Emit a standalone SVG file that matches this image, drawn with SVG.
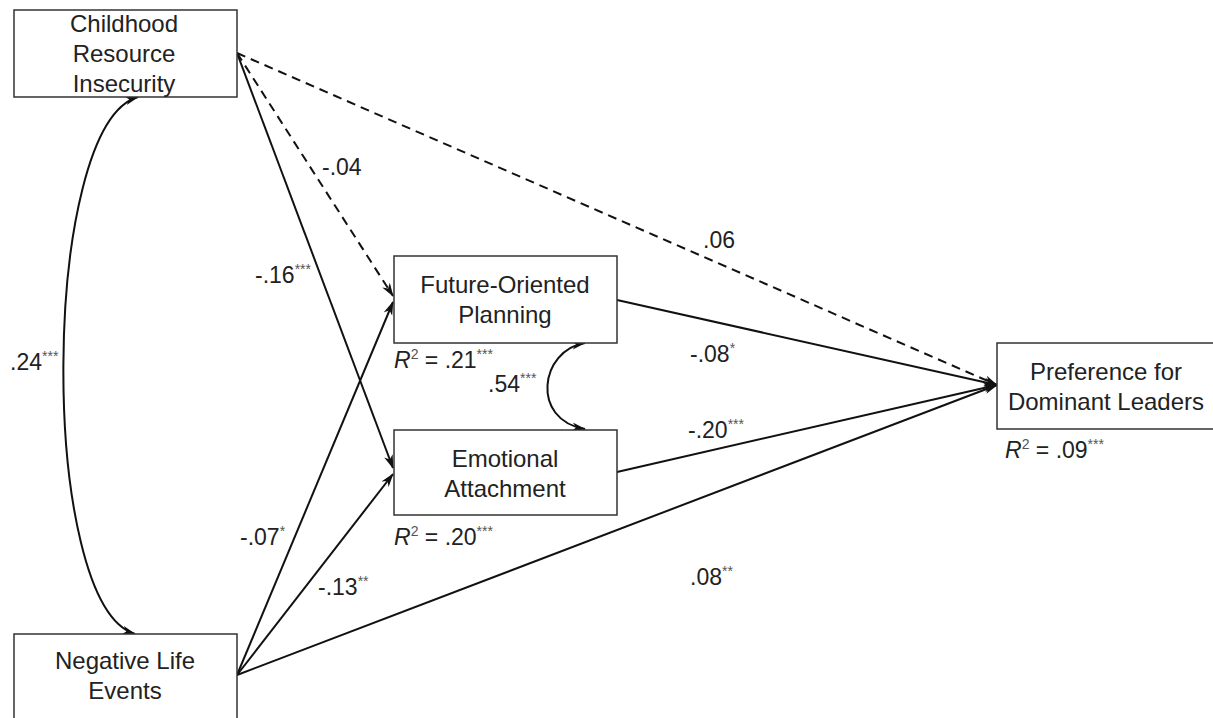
<svg xmlns="http://www.w3.org/2000/svg" width="1213" height="718" viewBox="0 0 1213 718">
<style>
.box{fill:#fff;stroke:#333;stroke-width:1.5}
.t{font-family:"Liberation Sans",Arial,sans-serif;font-size:24px;fill:#222;text-anchor:middle}
.l{font-family:"Liberation Sans",Arial,sans-serif;font-size:23px;fill:#222}
.s{font-size:14px;fill:#555}
.e{fill:none;stroke:#111;stroke-width:2;marker-end:url(#ah)}
.d{stroke-dasharray:9 6}
.c{fill:none;stroke:#111;stroke-width:2;marker-start:url(#ahs);marker-end:url(#ah)}
</style>
<defs>
<marker id="ah" viewBox="0 0 14 10" refX="13" refY="5" markerWidth="14" markerHeight="10" markerUnits="userSpaceOnUse" orient="auto">
<path d="M0,0.5 L14,5 L0,9.5 L4,5 z" fill="#111"/>
</marker>
<marker id="ahs" viewBox="0 0 14 10" refX="13" refY="5" markerWidth="14" markerHeight="10" markerUnits="userSpaceOnUse" orient="auto-start-reverse">
<path d="M0,0.5 L14,5 L0,9.5 L4,5 z" fill="#111"/>
</marker>
</defs>
<rect width="1213" height="718" fill="#fff"/>
<g id="connectors">
<path class="e d" d="M237,53 L997,385"/>
<path class="e d" d="M237,53 L393,296"/>
<path class="e" d="M237,53 L393,468"/>
<path class="e" d="M237,675 L393,302"/>
<path class="e" d="M237,675 L393,474"/>
<path class="e" d="M237,675 L997,385"/>
<path class="e" d="M617,300 L997,385"/>
<path class="e" d="M617,472 L997,385"/>
<path class="c" d="M138,97 C40,125 38,605 135,634"/>
<path class="c" d="M585,343 C540,350 530,420 585,429"/>
</g>
<g id="cri">
<rect class="box" x="14" y="10" width="223" height="87"/>
<text class="t" x="124" y="32">Childhood</text>
<text class="t" x="124" y="62">Resource</text>
<text class="t" x="124" y="92">Insecurity</text>
</g>
<g id="nle">
<rect class="box" x="14" y="634" width="223" height="90"/>
<text class="t" x="125" y="669">Negative Life</text>
<text class="t" x="125" y="699">Events</text>
</g>
<g id="fop">
<rect class="box" x="394" y="256" width="223" height="87"/>
<text class="t" x="505" y="293">Future-Oriented</text>
<text class="t" x="505" y="323">Planning</text>
</g>
<g id="ea">
<rect class="box" x="394" y="430" width="223" height="85"/>
<text class="t" x="505" y="467">Emotional</text>
<text class="t" x="505" y="497">Attachment</text>
</g>
<g id="pdl">
<rect class="box" x="997" y="343" width="223" height="86"/>
<text class="t" x="1106" y="380">Preference for</text>
<text class="t" x="1106" y="410">Dominant Leaders</text>
</g>
<g id="labels">
<text class="l" x="394" y="368"><tspan font-style="italic">R</tspan><tspan class="s" dy="-9">2</tspan><tspan dy="9"> = .21</tspan><tspan class="s" dy="-9">***</tspan></text>
<text class="l" x="394" y="545"><tspan font-style="italic">R</tspan><tspan class="s" dy="-9">2</tspan><tspan dy="9"> = .20</tspan><tspan class="s" dy="-9">***</tspan></text>
<text class="l" x="1005" y="458"><tspan font-style="italic">R</tspan><tspan class="s" dy="-9">2</tspan><tspan dy="9"> = .09</tspan><tspan class="s" dy="-9">***</tspan></text>
<text class="l" x="488" y="392">.54<tspan class="s" dy="-9">***</tspan></text>
<text class="l" x="10" y="370">.24<tspan class="s" dy="-9">***</tspan></text>
<text class="l" x="322" y="175">-.04</text>
<text class="l" x="703" y="248">.06</text>
<text class="l" x="255" y="283">-.16<tspan class="s" dy="-9">***</tspan></text>
<text class="l" x="690" y="362">-.08<tspan class="s" dy="-9">*</tspan></text>
<text class="l" x="688" y="438">-.20<tspan class="s" dy="-9">***</tspan></text>
<text class="l" x="690" y="585">.08<tspan class="s" dy="-9">**</tspan></text>
<text class="l" x="240" y="545">-.07<tspan class="s" dy="-9">*</tspan></text>
<text class="l" x="318" y="595">-.13<tspan class="s" dy="-9">**</tspan></text>
</g>
</svg>
